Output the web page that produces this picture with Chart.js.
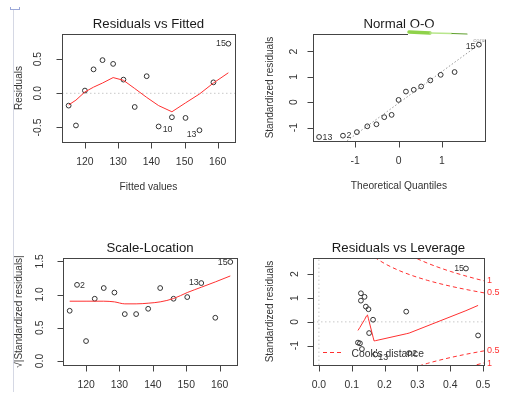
<!DOCTYPE html>
<html>
<head>
<meta charset="utf-8">
<script src="https://cdn.jsdelivr.net/npm/chart.js@4.4.1/dist/chart.umd.min.js"></script>
<style>
  html, body { margin: 0; padding: 0; background: #fff; }
  #root { position: relative; width: 510px; height: 399px; overflow: hidden; }
  #root canvas { position: absolute; left: 0; top: 0; }
  .rule { position: absolute; left: 13px; top: 10px; width: 1px; height: 382px; background: #d5d8e4; }
  .bracket { position: absolute; left: 10px; top: 7px; width: 8px; height: 2px; border: 1px solid #9ba8d8; border-top: none; }
</style>
</head>
<body>
<div id="root"><div class="rule"></div><div class="bracket"></div></div>
<script>
const fitted = [115.1, 117.3, 120.0, 122.6, 125.3, 128.5, 131.6, 135.0, 138.6, 142.2, 146.2, 150.3, 154.5, 158.7, 163.2]
const residuals = [-0.18, -0.47, 0.04, 0.35, 0.485, 0.43, 0.20, -0.20, 0.25, -0.485, -0.35, -0.36, -0.54, 0.16, 0.725]
const residLowess = [-0.17, -0.10, 0.02, 0.09, 0.15, 0.23, 0.19, 0.07, -0.06, -0.18, -0.27, -0.14, -0.01, 0.15, 0.30]

const qqTheoretical = [-1.83, -1.28, -0.96, -0.72, -0.51, -0.33, -0.16, 0.0, 0.17, 0.35, 0.52, 0.73, 0.97, 1.29, 1.85]
const qqSample = [-1.37, -1.32, -1.18, -0.95, -0.87, -0.59, -0.50, 0.09, 0.42, 0.49, 0.62, 0.86, 1.08, 1.19, 2.27]
const qqLineX = [-1.25, 2.0]
const qqLineY = [-1.60, 2.46]

const sqrtStdResid = [0.756, 1.146, 0.30, 0.937, 1.098, 1.03, 0.706, 0.706, 0.786, 1.098, 0.937, 0.962, 1.173, 0.651, 1.49]
const scaleLowess = [0.90, 0.90, 0.90, 0.90, 0.90, 0.89, 0.86, 0.86, 0.87, 0.89, 0.94, 1.03, 1.11, 1.19, 1.28]

const leverage = [0.485, 0.275, 0.165, 0.128, 0.128, 0.139, 0.151, 0.153, 0.143, 0.131, 0.119, 0.125, 0.172, 0.266, 0.448]
const stdResid = [-0.57, -1.31, 0.09, 0.89, 1.20, 1.05, 0.53, -0.47, 0.64, -1.14, -0.87, -0.90, -1.37, 0.43, 2.24]
const levLowessX = [0.119, 0.125, 0.131, 0.139, 0.145, 0.148, 0.151, 0.153, 0.165, 0.168, 0.172, 0.266, 0.275, 0.448, 0.485]
const levLowessY = [-0.36, -0.23, -0.09, 0.09, 0.25, 0.29, 0.13, 0.02, -0.64, -0.80, -0.79, -0.50, -0.47, 0.47, 0.69]

// Cook's distance contours (0.5 and 1)
const cookHalfHat = [0.17, 0.18, 0.20, 0.22, 0.25, 0.28, 0.30, 0.33, 0.36, 0.40, 0.44, 0.47, 0.50, 0.52]
const cookHalfUpper = [2.706, 2.614, 2.449, 2.306, 2.121, 1.964, 1.871, 1.745, 1.633, 1.500, 1.382, 1.301, 1.225, 1.177]
const cookHalfLower = [-2.706, -2.614, -2.449, -2.306, -2.121, -1.964, -1.871, -1.745, -1.633, -1.500, -1.382, -1.301, -1.225, -1.177]
const cookOneHat = [0.28, 0.29, 0.30, 0.33, 0.36, 0.40, 0.44, 0.46, 0.47, 0.50, 0.52]
const cookOneUpper = [2.777, 2.710, 2.646, 2.468, 2.309, 2.121, 1.954, 1.877, 1.839, 1.732, 1.664]
const cookOneLower = [-2.777, -2.710, -2.646, -2.468, -2.309, -2.121, -1.954, -1.877, -1.839, -1.732, -1.664]
const cookLabelValues = [1.73, 1.22, -1.22, -1.73]
const cookLabels = ['1', '0.5', '0.5', '1']

const fittedTicks = [120, 130, 140, 150, 160]
const fittedTickLabels = ['120', '130', '140', '150', '160']
const residTicks = [-0.5, 0, 0.5]
const residTickLabels = ['-0.5', '0.0', '0.5']
const qqXTicks = [-1, 0, 1]
const qqXTickLabels = ['-1', '0', '1']
const stdTicks = [-1, 0, 1, 2]
const stdTickLabels = ['-1', '0', '1', '2']
const scaleTicks = [0, 0.5, 1, 1.5]
const scaleTickLabels = ['0.0', '0.5', '1.0', '1.5']
const levTicks = [0, 0.1, 0.2, 0.3, 0.4, 0.5]
const levTickLabels = ['0.0', '0.1', '0.2', '0.3', '0.4', '0.5']

const FONT = '"Liberation Sans", Arial, sans-serif'
const RED = '#ff3030'

function text(ctx, str, x, y, size, color, align = 'center', rot = 0) {
    ctx.save()
    ctx.translate(x, y)
    ctx.rotate(rot)
    ctx.font = `${size}px ${FONT}`
    ctx.fillStyle = color
    ctx.textAlign = align
    ctx.textBaseline = 'middle'
    ctx.fillText(str, 0, 0)
    ctx.restore()
}

const pts = (xs, ys) => xs.map((x, i) => ({ x, y: ys[i] }))

const points = (xs, ys) => ({
    data: pts(xs, ys), pointStyle: 'circle', pointRadius: 2.4, borderWidth: 1,
    borderColor: '#333', backgroundColor: 'rgba(0,0,0,0)'
})

const curve = (xs, ys, color, dash = [], smooth = false) => ({
    data: pts(xs, ys), showLine: true, pointRadius: 0, borderColor: color, borderWidth: 1,
    borderDash: dash, cubicInterpolationMode: smooth ? 'monotone' : 'default', tension: 0, fill: false
})

/**
 * R-like frame: box, outward ticks, rotated y labels, titles, point ids
 */
function rPlot(cfg) {
    return {
        id: 'rPlot',
        afterDatasetsDraw(chart) {
            const { ctx, chartArea: a, scales: { x, y } } = chart
            ctx.save()
            ctx.strokeStyle = '#444'
            ctx.lineWidth = 1
            ctx.strokeRect(a.left + 0.5, a.top + 0.5, a.right - a.left, a.bottom - a.top)
            ctx.beginPath()
            cfg.xTicks.forEach(v => {
                const px = Math.round(x.getPixelForValue(v)) + 0.5
                ctx.moveTo(px, a.bottom + 0.5)
                ctx.lineTo(px, a.bottom + 6.5)
            })
            cfg.yTicks.forEach(v => {
                const py = Math.round(y.getPixelForValue(v)) + 0.5
                ctx.moveTo(a.left + 0.5, py)
                ctx.lineTo(a.left - 5.5, py)
            })
            ctx.stroke()
            ctx.restore()

            cfg.xTicks.forEach((v, i) => text(ctx, cfg.xTickLabels[i], x.getPixelForValue(v), a.bottom + 20, 10.4, '#333'))
            cfg.yTicks.forEach((v, i) => text(ctx, cfg.yTickLabels[i], cfg.yTickX, y.getPixelForValue(v), 10.4, '#333', 'center', -Math.PI / 2))

            const cx = (a.left + a.right) / 2
            text(ctx, cfg.title, cx, a.top - 9.5, 13.2, '#1a1a1a')
            if (cfg.xTitle) text(ctx, cfg.xTitle, cx, a.bottom + 45, 10.2, '#333')
            text(ctx, cfg.yTitle, cfg.yTitleX, (a.top + a.bottom) / 2, 10, '#333', 'center', -Math.PI / 2)

            cfg.ids.forEach(({ i, label, dx, dy }) => {
                const px = x.getPixelForValue(cfg.idX[i]) + dx
                const py = y.getPixelForValue(cfg.idY[i]) + dy
                text(ctx, label, px, py, 8.8, '#333', dx > 0 ? 'left' : 'right')
            })
            if (cfg.extra) cfg.extra(chart)
        }
    }
}

function panelChart(cfg) {
    const canvas = document.createElement('canvas')
    canvas.width = 510
    canvas.height = 399
    document.getElementById('root').append(canvas)
    const [l, t, r, b] = cfg.area
    new Chart(canvas, {
        type: 'scatter',
        data: { datasets: cfg.datasets },
        options: {
            responsive: false,
            animation: false,
            events: [],
            layout: { padding: { left: l, top: t, right: 510 - r, bottom: 399 - b } },
            scales: {
                x: { type: 'linear', display: false, min: cfg.xRange[0], max: cfg.xRange[1] },
                y: { type: 'linear', display: false, min: cfg.yRange[0], max: cfg.yRange[1] }
            },
            plugins: { legend: { display: false }, tooltip: { enabled: false } }
        },
        plugins: [rPlot(cfg)]
    })
}

function main() {
    // Residuals vs Fitted
    panelChart({
        area: [62, 34, 235, 142], xRange: [113.1, 165.2], yRange: [-0.712, 0.867],
        xTicks: fittedTicks, xTickLabels: fittedTickLabels, yTicks: residTicks, yTickLabels: residTickLabels,
        yTickX: 38.3, yTitleX: 19,
        title: 'Residuals vs Fitted', xTitle: 'Fitted values', yTitle: 'Residuals',
        idX: fitted, idY: residuals,
        ids: [{ i: 9, label: '10', dx: 4, dy: 3 }, { i: 12, label: '13', dx: -3, dy: 4 }, { i: 14, label: '15', dx: -2.5, dy: 0 }],
        datasets: [
            curve(fitted, residLowess, RED),
            points(fitted, residuals),
            curve([113.1, 165.2], [0, 0], '#c8c8c8', [1.5, 2.5])
        ]
    })

    // Normal Q-Q
    panelChart({
        area: [313, 34, 485, 141], xRange: [-1.97, 1.99], yRange: [-1.53, 2.69],
        xTicks: qqXTicks, xTickLabels: qqXTickLabels, yTicks: stdTicks, yTickLabels: stdTickLabels,
        yTickX: 294.3, yTitleX: 270,
        title: 'Normal Q-Q', xTitle: 'Theoretical Quantiles', yTitle: 'Standardized residuals',
        idX: qqTheoretical, idY: qqSample,
        ids: [{ i: 0, label: '13', dx: 3.5, dy: 0.5 }, { i: 1, label: '2', dx: 3.6, dy: 0 }, { i: 14, label: '15', dx: -3.5, dy: 1.5 }],
        datasets: [
            points(qqTheoretical, qqSample),
            curve(qqLineX, qqLineY, '#999', [1.5, 2])
        ],
        extra(chart) {
            // the green pen mark over the title
            const ctx = chart.ctx
            ctx.save()
            ctx.fillStyle = '#fff'
            ctx.fillRect(408, 27.5, 78, 12)
            ctx.lineCap = 'round'
            ctx.strokeStyle = '#8fd24a'
            ctx.lineWidth = 3.5
            ctx.beginPath(); ctx.moveTo(409, 32); ctx.lineTo(430, 33); ctx.stroke()
            ctx.strokeStyle = '#b8e68c'
            ctx.lineWidth = 1.5
            ctx.beginPath(); ctx.moveTo(430, 33); ctx.lineTo(452, 33.5); ctx.stroke()
            ctx.strokeStyle = '#5e9e2c'
            ctx.lineWidth = 1.2
            ctx.beginPath(); ctx.moveTo(452, 33.5); ctx.lineTo(467, 34); ctx.stroke()
            ctx.restore()
            text(ctx, 'com', 479, 40, 6, '#aaa')
        }
    })

    // Scale-Location
    panelChart({
        area: [63, 258, 237, 365], xRange: [113.1, 165.2], yRange: [-0.06, 1.55],
        xTicks: fittedTicks, xTickLabels: fittedTickLabels, yTicks: scaleTicks, yTickLabels: scaleTickLabels,
        yTickX: 40, yTitleX: 19,
        title: 'Scale-Location', xTitle: 'Fitted values', yTitle: '\u221A|Standardized residuals|',
        idX: fitted, idY: sqrtStdResid,
        ids: [{ i: 1, label: '2', dx: 3, dy: 1 }, { i: 12, label: '13', dx: -2.5, dy: 0 }, { i: 14, label: '15', dx: -2.7, dy: 0.5 }],
        datasets: [
            curve(fitted, scaleLowess, RED, [], true),
            points(fitted, sqrtStdResid)
        ]
    })

    // Residuals vs Leverage
    panelChart({
        area: [313, 258, 484, 365], xRange: [-0.018, 0.503], yRange: [-1.81, 2.68],
        xTicks: levTicks, xTickLabels: levTickLabels, yTicks: stdTicks, yTickLabels: stdTickLabels,
        yTickX: 295, yTitleX: 270,
        title: 'Residuals vs Leverage', xTitle: 'Leverage', yTitle: 'Standardized residuals',
        idX: leverage, idY: stdResid,
        ids: [{ i: 14, label: '15', dx: -2, dy: 0 }, { i: 12, label: '13', dx: 3, dy: 3 }, { i: 1, label: '2', dx: 3, dy: 0 }],
        datasets: [
            curve(levLowessX, levLowessY, RED),
            points(leverage, stdResid),
            curve(cookHalfHat, cookHalfUpper, RED, [4, 3], true),
            curve(cookHalfHat, cookHalfLower, RED, [4, 3], true),
            curve(cookOneHat, cookOneUpper, RED, [4, 3], true),
            curve(cookOneHat, cookOneLower, RED, [4, 3], true),
            curve([-0.018, 0.503], [0, 0], '#c8c8c8', [1.5, 2.5]),
            curve([0, 0], [-1.81, 2.68], '#c8c8c8', [1.5, 2.5])
        ],
        extra(chart) {
            const { ctx, scales: { y } } = chart
            cookLabelValues.forEach((v, i) => text(ctx, cookLabels[i], 487, y.getPixelForValue(v), 9, RED, 'left'))
            ctx.save()
            ctx.strokeStyle = RED
            ctx.lineWidth = 1
            ctx.setLineDash([4, 3])
            ctx.beginPath(); ctx.moveTo(323, 352.5); ctx.lineTo(341, 352.5); ctx.stroke()
            ctx.restore()
            text(ctx, "Cook's distance", 351.5, 354, 10.3, '#333', 'left')
        }
    })
}

window.onload = main
</script>
</body>
</html>
